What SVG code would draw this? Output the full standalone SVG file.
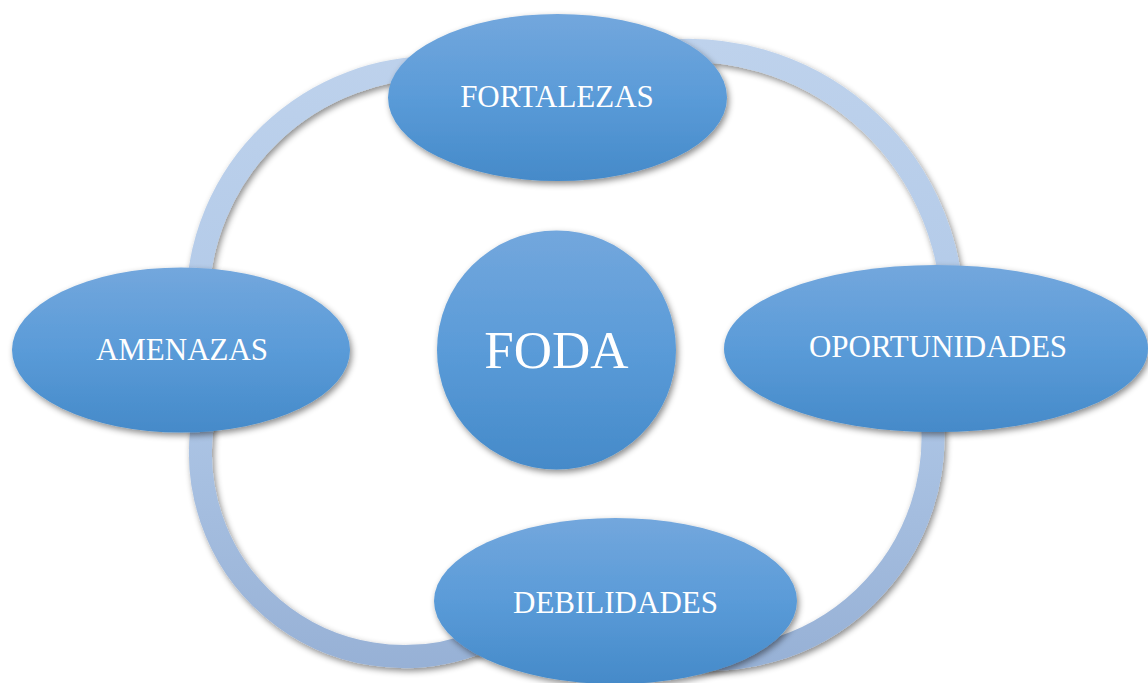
<svg xmlns="http://www.w3.org/2000/svg" width="1148" height="683" viewBox="0 0 1148 683">
<defs>
<linearGradient id="gNode" x1="0" y1="0" x2="0" y2="1">
<stop offset="0" stop-color="#73a7dd"/>
<stop offset="0.5" stop-color="#5a9bd8"/>
<stop offset="1" stop-color="#458ac9"/>
</linearGradient>
<linearGradient id="gRing" gradientUnits="userSpaceOnUse" x1="0" y1="40" x2="0" y2="680">
<stop offset="0" stop-color="#bed2ec"/>
<stop offset="0.5" stop-color="#b1c9e8"/>
<stop offset="1" stop-color="#96b0d5"/>
</linearGradient>
<filter id="sh" x="-20%" y="-20%" width="140%" height="140%">
<feDropShadow dx="2" dy="3" stdDeviation="3" flood-color="#000" flood-opacity="0.45"/>
</filter>
</defs>
<style>
.node{fill:url(#gNode);filter:url(#sh)}
.lbl{font-family:"Liberation Serif","Times New Roman",serif;font-size:31px;fill:#fff;text-anchor:middle}
.big{font-size:53px}
.ring{fill:none;stroke:url(#gRing);stroke-width:23;filter:url(#sh)}
</style>
<rect width="1148" height="683" fill="#fff"/>
<g id="connectors">
<path class="ring" d="M197.5,300 A237.5,237.5 0 0 1 440,67.6"/>
<path class="ring" d="M660,51.8 A264.7,264.7 0 0 1 952.3,300"/>
<path class="ring" d="M931.4,410 A222,222 0 0 1 672.5,655.6"/>
<path class="ring" d="M205.1,410 A203.5,203.5 0 0 0 480,641.8"/>
</g>
<g id="fortalezas">
<ellipse class="node" cx="557.5" cy="97.5" rx="169.5" ry="83.5"/>
<text class="lbl" x="557" y="107">FORTALEZAS</text>
</g>
<g id="amenazas">
<ellipse class="node" cx="181" cy="350" rx="169" ry="82.5"/>
<text class="lbl" x="182" y="360">AMENAZAS</text>
</g>
<g id="oportunidades">
<ellipse class="node" cx="936" cy="348.5" rx="212" ry="83.5"/>
<text class="lbl" x="938" y="357">OPORTUNIDADES</text>
</g>
<g id="debilidades">
<ellipse class="node" cx="615.5" cy="601" rx="181.5" ry="83"/>
<text class="lbl" x="615.5" y="613">DEBILIDADES</text>
</g>
<g id="foda">
<circle class="node" cx="556.5" cy="350" r="119.5"/>
<text class="lbl big" x="556.5" y="368">FODA</text>
</g>
</svg>
